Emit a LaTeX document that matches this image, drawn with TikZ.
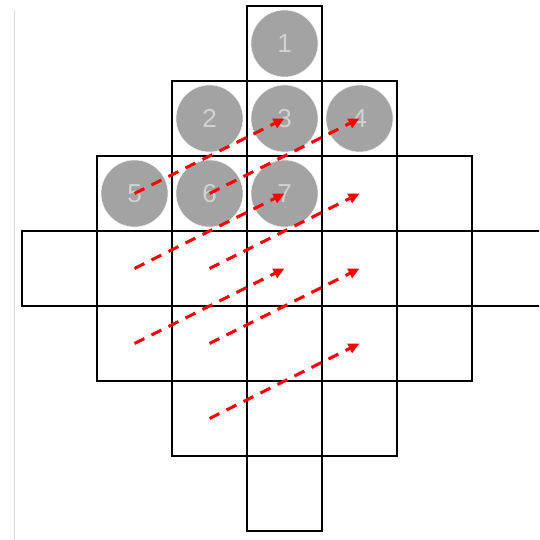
\documentclass[tikz,border=0pt]{standalone}
\usepackage{fontspec}
\setmainfont{Liberation Sans}
\usetikzlibrary{arrows.meta}
\definecolor{ballfill}{HTML}{A3A3A3}
\definecolor{balltext}{HTML}{D2D2D2}
\begin{document}
\begin{tikzpicture}[x=1pt,y=-1pt,
  cell/.style={draw=black,line width=1.9pt,minimum size=75pt,inner sep=0pt,outer sep=0pt},
  ball/.style={circle,fill=ballfill,draw=white!85!ballfill,line width=0.6pt,minimum size=67pt,inner sep=0pt,text=balltext,font=\fontsize{26}{26}\selectfont},
  move/.style={draw=red,line width=3pt,dash pattern=on 11pt off 8pt,-{Triangle[length=11pt,width=10pt]}}]
\useasboundingbox (0,0) rectangle (539,540);
\clip (0,0) rectangle (539,540);
\draw[gray!30,line width=0.8pt] (14,10) -- (14,540);
% grid cells: column c, row r, center (59.5+75c, 43.5+75r)
\foreach \c/\r in {3/0, 2/1,3/1,4/1, 1/2,2/2,3/2,4/2,5/2,
  0/3,1/3,2/3,3/3,4/3,5/3,6/3, 1/4,2/4,3/4,4/4,5/4, 2/5,3/5,4/5, 3/6}
  \node[cell] (c\c\r) at ({59.5+75*\c},{43.5+75*\r}) {};
% balls
\node[ball] (b1) at (c30) {1};
\node[ball] (b2) at (c21) {2};
\node[ball] (b3) at (c31) {3};
\node[ball] (b4) at (c41) {4};
\node[ball] (b5) at (c12) {5};
\node[ball] (b6) at (c22) {6};
\node[ball] (b7) at (c32) {7};
% moves
\draw[move] (c12.center) -- (c31.center);
\draw[move] (c22.center) -- (c41.center);
\draw[move] (c13.center) -- (c32.center);
\draw[move] (c23.center) -- (c42.center);
\draw[move] (c14.center) -- (c33.center);
\draw[move] (c24.center) -- (c43.center);
\draw[move] (c25.center) -- (c44.center);
\end{tikzpicture}
\end{document}
